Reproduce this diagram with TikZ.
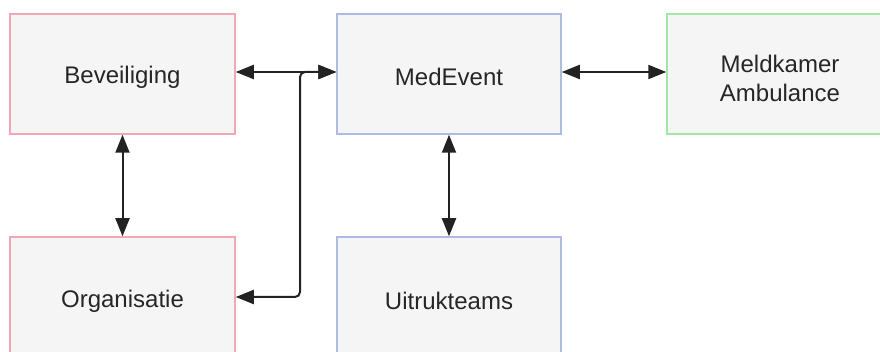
\documentclass[tikz,border=0pt]{standalone}
\usepackage{fontspec}
\setmainfont{Liberation Sans}
\usetikzlibrary{arrows.meta}
\definecolor{boxfill}{HTML}{F5F5F5}
\definecolor{pinkline}{HTML}{F2A7B5}
\definecolor{blueline}{HTML}{AEBCE3}
\definecolor{greenline}{HTML}{A3E89F}
\definecolor{conn}{HTML}{222222}
\tikzset{
  box/.style={draw, fill=boxfill, line width=1.5pt, rectangle, minimum width=225pt, minimum height=120pt, inner sep=0pt},
  pinkbox/.style={box, draw=pinkline},
  bluebox/.style={box, draw=blueline},
  greenbox/.style={box, draw=greenline},
  lbl/.style={align=center, inner sep=0pt, font=\fontsize{24}{29}\selectfont, text=black!85},
  link/.style={draw=conn, line width=2pt, {Triangle[length=18pt,width=14pt]}-{Triangle[length=18pt,width=14pt]}},
}
\begin{document}
\begin{tikzpicture}[x=1pt,y=-1pt]
\useasboundingbox (0,0) rectangle (880,352);
\clip (0,0) rectangle (880,352);
\fill[white] (0,0) rectangle (880,352);
\node[pinkbox] (bev) at (122.5,74) {};
\node[bluebox, minimum width=224pt] (med) at (449,74) {};
\node[greenbox] (mel) at (779.5,74) {};
\node[pinkbox] (org) at (122.5,297) {};
\node[bluebox, minimum width=224pt] (uit) at (449,297) {};
\node[lbl] (tbev) at (122.5,77) {Beveiliging};
\node[lbl] (tmed) at (449,77) {MedEvent};
\node[lbl] (tmel) at (780,78) {Meldkamer\\Ambulance};
\node[lbl] (torg) at (122.5,301) {Organisatie};
\node[lbl] (tuit) at (449,301) {Uitrukteams};
\path (bev.east) ++(0,-2) coordinate (bevE) (med.west) ++(0,-2) coordinate (medW);
\draw[link] (bevE) -- (medW);
\draw[link] (med.east |- medW) -- (mel.west |- medW);
\draw[link] (bev.south) -- (org.north);
\draw[link] (med.south) -- (uit.north);
\draw[link, rounded corners=5pt] (org.east) -- (300,297) -- (300,72) -- (medW);
\end{tikzpicture}
\end{document}
